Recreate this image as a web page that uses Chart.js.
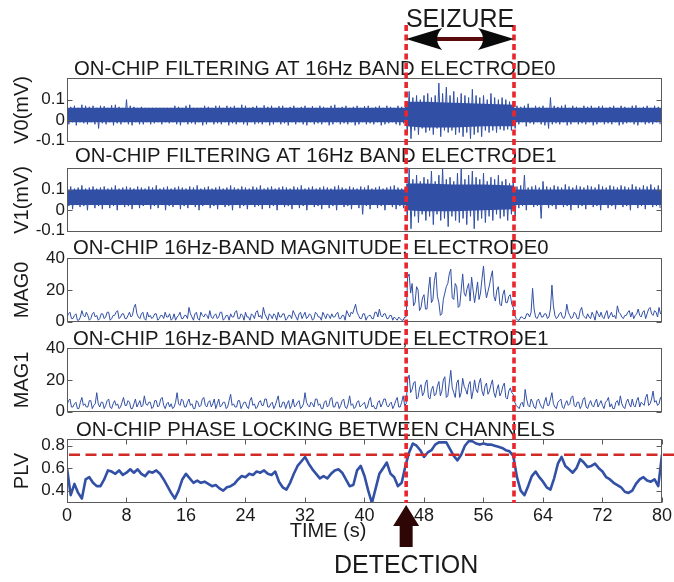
<!DOCTYPE html>
<html>
<head>
<meta charset="utf-8">
<title>On-chip seizure detection</title>
<script src="https://cdn.jsdelivr.net/npm/chart.js@4.4.1/dist/chart.umd.min.js"></script>
<style>
  html, body { margin:0; padding:0; background:#fff; }
  body { position:relative; width:674px; height:582px; overflow:hidden; }
  canvas { position:absolute; left:0; }
</style>
</head>
<body>
<script>
// ================= DATA =================
const timeRange = [0, 80];
const xTickValues = [0, 8, 16, 24, 32, 40, 48, 56, 64, 72, 80];

// Filtered signals: per 0.5 s, the upper (hi) and lower (lo) excursion in mV
const V_STEP = 0.5;
const v0Hi = [
  0.07,0.065,0.07,0.06,0.075,0.07,0.065,0.07,0.06,0.07,
  0.068,0.06,0.072,0.075,0.065,0.06,0.1,0.07,0.065,0.06,
  0.065,0.06,0.06,0.06,0.06,0.06,0.06,0.06,0.06,0.07,
  0.065,0.06,0.07,0.075,0.06,0.06,0.06,0.07,0.065,0.06,
  0.07,0.07,0.06,0.07,0.065,0.07,0.06,0.075,0.07,0.06,
  0.065,0.07,0.06,0.072,0.065,0.07,0.06,0.068,0.07,0.06,
  0.065,0.07,0.06,0.065,0.07,0.06,0.068,0.06,0.07,0.065,
  0.06,0.07,0.075,0.06,0.065,0.07,0.06,0.065,0.07,0.06,
  0.068,0.07,0.06,0.065,0.07,0.06,0.07,0.065,0.06,0.07,
  0.065,0.07,0.14,0.11,0.12,0.1,0.12,0.13,0.11,0.12,
  0.18,0.13,0.16,0.12,0.14,0.11,0.13,0.12,0.11,0.15,
  0.12,0.11,0.12,0.1,0.13,0.11,0.1,0.11,0.1,0.09,
  0.09,0.07,0.065,0.07,0.08,0.06,0.07,0.065,0.07,0.06,
  0.11,0.07,0.065,0.07,0.075,0.06,0.07,0.065,0.06,0.07,
  0.065,0.07,0.06,0.068,0.07,0.06,0.065,0.07,0.06,0.07,
  0.065,0.06,0.07,0.072,0.06,0.065,0.07,0.06,0.07,0.065
];
const v0Lo = [
  -0.02,-0.01,-0.025,-0.01,-0.015,-0.02,-0.01,-0.02,-0.04,-0.015,
  -0.02,-0.01,-0.025,-0.015,-0.02,-0.01,-0.02,-0.025,-0.01,-0.02,
  -0.02,-0.01,-0.02,-0.015,-0.01,-0.02,-0.01,-0.015,-0.01,-0.02,
  -0.025,-0.01,-0.02,-0.015,-0.02,-0.01,-0.025,-0.02,-0.01,-0.02,
  -0.015,-0.02,-0.01,-0.025,-0.015,-0.02,-0.01,-0.02,-0.025,-0.01,
  -0.02,-0.015,-0.02,-0.01,-0.025,-0.02,-0.01,-0.02,-0.015,-0.025,
  -0.01,-0.02,-0.01,-0.02,-0.025,-0.01,-0.02,-0.015,-0.02,-0.01,
  -0.025,-0.02,-0.01,-0.02,-0.015,-0.02,-0.01,-0.025,-0.02,-0.01,
  -0.02,-0.015,-0.02,-0.01,-0.025,-0.02,-0.015,-0.01,-0.02,-0.025,
  -0.015,-0.06,-0.09,-0.05,-0.07,-0.04,-0.06,-0.05,-0.07,-0.04,
  -0.08,-0.05,-0.06,-0.05,-0.07,-0.06,-0.08,-0.06,-0.09,-0.07,
  -0.06,-0.08,-0.05,-0.06,-0.05,-0.06,-0.045,-0.05,-0.045,-0.05,
  -0.04,-0.02,-0.01,-0.03,-0.015,-0.02,-0.01,-0.02,-0.025,-0.04,
  -0.02,-0.015,-0.02,-0.01,-0.025,-0.02,-0.01,-0.02,-0.015,-0.02,
  -0.01,-0.025,-0.02,-0.01,-0.02,-0.015,-0.02,-0.01,-0.025,-0.02,
  -0.015,-0.01,-0.02,-0.025,-0.01,-0.02,-0.015,-0.02,-0.01,-0.02
];
const v1Hi = [
  0.11,0.115,0.105,0.11,0.12,0.105,0.11,0.115,0.105,0.11,
  0.115,0.105,0.11,0.12,0.105,0.11,0.115,0.11,0.105,0.115,
  0.11,0.105,0.115,0.11,0.12,0.105,0.11,0.115,0.105,0.11,
  0.115,0.11,0.105,0.115,0.11,0.12,0.105,0.11,0.115,0.105,
  0.11,0.115,0.105,0.11,0.12,0.11,0.105,0.115,0.11,0.105,
  0.115,0.11,0.12,0.105,0.11,0.115,0.105,0.11,0.115,0.11,
  0.105,0.115,0.11,0.12,0.105,0.11,0.115,0.105,0.11,0.115,
  0.11,0.105,0.115,0.12,0.11,0.105,0.115,0.11,0.105,0.115,
  0.11,0.12,0.105,0.11,0.115,0.105,0.11,0.115,0.12,0.11,
  0.105,0.11,0.2,0.15,0.17,0.14,0.16,0.15,0.19,0.14,
  0.17,0.2,0.15,0.16,0.14,0.18,0.2,0.15,0.17,0.19,
  0.16,0.15,0.18,0.14,0.16,0.15,0.17,0.14,0.15,0.13,
  0.14,0.115,0.12,0.17,0.11,0.115,0.12,0.11,0.14,0.115,
  0.11,0.12,0.115,0.11,0.125,0.115,0.11,0.12,0.115,0.11,
  0.12,0.115,0.11,0.125,0.115,0.11,0.12,0.115,0.11,0.12,
  0.115,0.11,0.125,0.115,0.11,0.12,0.115,0.125,0.11,0.12
];
const v1Lo = [
  0.02,0.005,0.025,0.015,0.02,0.0,0.025,0.01,0.02,0.005,
  0.025,0.01,0.02,0.0,0.025,0.015,0.02,0.005,0.025,0.01,
  0.02,0.025,0.005,0.02,0.01,0.025,0.0,0.02,0.015,0.025,
  0.005,0.02,0.01,0.025,0.015,0.0,0.02,0.025,0.01,0.02,
  0.005,0.025,0.015,0.02,0.0,0.025,0.01,0.02,0.005,0.025,
  0.015,0.02,0.005,0.025,0.01,0.02,0.0,0.025,0.015,0.02,
  0.005,0.025,0.01,0.02,0.0,0.025,0.015,0.02,0.005,0.025,
  0.01,0.02,0.0,0.025,0.015,0.02,0.005,0.025,0.01,-0.02,
  0.02,0.005,0.025,0.01,0.02,0.0,0.025,0.015,0.005,0.02,
  0.01,-0.04,-0.09,-0.03,-0.06,-0.02,-0.05,-0.03,-0.07,-0.02,
  -0.05,-0.04,-0.08,-0.03,-0.05,-0.06,-0.04,-0.07,-0.03,-0.09,
  -0.05,-0.04,-0.06,-0.03,-0.05,-0.02,-0.04,-0.03,-0.05,-0.02,
  -0.03,0.01,0.02,0.0,0.025,0.015,0.02,-0.04,0.025,0.01,
  0.02,0.005,0.025,0.015,0.02,0.0,0.025,0.01,0.02,0.005,
  0.025,0.015,0.02,0.0,0.025,0.01,0.02,0.005,0.025,0.015,
  0.02,0.0,0.025,0.01,0.02,0.005,0.025,0.015,0.02,0.01
];
// Dense core of the filtered signals (where the trace fills solid), mV, at knot times (s)
const vCoreT   = [0, 45.6, 45.6, 48, 52, 56, 60.1, 60.1, 80];
const v0CoreHi = [0.06, 0.06, 0.09, 0.09, 0.085, 0.08, 0.075, 0.06, 0.06];
const v0CoreLo = [-0.01, -0.01, -0.03, -0.035, -0.035, -0.03, -0.03, -0.01, -0.01];
const v1CoreHi = [0.1, 0.1, 0.13, 0.13, 0.125, 0.125, 0.12, 0.1, 0.1];
const v1CoreLo = [0.025, 0.025, 0.0, -0.005, -0.005, 0.0, 0.005, 0.025, 0.025];

// 16 Hz-band magnitudes, one value every 0.2 s
const MAG_STEP = 0.2;
const mag0 = [
  3,5,6,2,2,4,5,1,1,3,7,4,3,6,4,1,2,5,6,3,
  4,1,2,5,5,2,3,6,6,1,2,4,4,6,7,2,3,5,5,2,
  2,4,6,3,4,9,11,5,3,2,5,6,2,1,6,3,4,2,3,5,
  5,1,2,4,4,2,6,3,3,5,1,2,5,1,3,4,6,2,2,4,
  4,2,9,5,3,1,5,6,2,1,6,4,3,5,4,2,7,3,2,4,
  5,2,3,6,6,1,2,4,4,1,5,3,3,6,7,2,2,5,4,1,
  6,3,3,1,5,4,2,6,7,3,4,2,9,5,3,1,5,4,2,5,
  4,1,6,3,3,5,5,1,2,4,4,2,7,5,3,1,5,6,2,4,
  6,2,3,5,4,1,2,6,5,3,3,1,6,4,2,5,4,2,5,3,
  3,5,6,2,2,4,4,1,7,5,3,6,5,8,11,6,4,2,2,5,
  5,1,3,4,4,2,2,6,6,3,8,4,3,5,5,2,2,4,4,1,
  3,2,1,3,2,1,1,3,3,28,30,18,24,10,12,22,20,7,9,15,
  17,8,8,20,28,12,14,26,31,16,12,4,5,14,18,22,24,30,33,15,
  14,24,22,9,10,20,30,18,16,21,24,13,28,20,12,18,25,14,18,27,
  35,22,15,19,23,28,32,16,13,20,22,11,10,17,20,12,12,16,17,11,
  9,4,2,1,1,3,3,2,2,5,5,3,6,21,8,3,2,4,6,3,
  3,5,5,2,3,8,23,10,4,2,3,5,6,3,2,4,11,6,4,2,
  3,6,5,2,2,7,9,4,3,2,5,3,2,6,4,1,7,5,3,6,
  3,2,5,7,2,4,6,3,4,2,10,6,5,3,2,4,4,6,7,3,
  6,2,4,5,8,4,3,6,7,2,5,8,9,5,4,7,6,3,9,5,
  6
];
const mag1 = [
  4,7,8,3,3,5,6,2,2,6,9,4,5,3,3,7,7,2,4,5,
  12,5,3,6,6,2,4,7,8,3,2,5,7,4,5,2,3,6,9,4,
  4,7,6,2,2,5,8,3,5,7,3,4,10,5,4,6,6,2,3,7,
  7,3,4,8,9,4,2,5,6,3,5,2,3,6,12,5,4,8,7,3,
  3,6,8,4,5,2,2,7,6,3,4,8,9,4,3,6,7,3,5,8,
  2,5,8,3,4,6,6,2,3,7,11,4,5,3,3,7,7,2,4,6,
  6,3,2,7,9,4,5,2,3,6,7,4,4,8,8,3,3,5,6,2,
  4,7,10,3,3,6,6,2,5,7,2,4,8,3,4,6,7,2,3,5,
  12,6,4,3,6,5,3,8,8,4,5,2,2,6,7,3,4,8,9,3,
  3,6,6,2,4,7,8,3,2,5,10,4,5,2,3,6,7,3,4,5,
  6,2,3,7,9,3,4,2,2,6,7,3,5,8,8,4,3,5,6,2,
  4,7,9,3,3,6,10,4,5,20,23,12,14,18,19,8,9,15,17,10,
  12,18,20,9,8,14,16,10,11,16,19,10,13,20,22,9,10,18,26,15,
  12,9,18,20,9,12,21,16,14,11,17,19,8,13,20,14,12,18,21,13,
  10,16,18,11,13,17,20,12,9,14,17,10,12,16,18,9,8,13,15,12,
  11,6,4,3,2,5,6,3,14,8,4,3,8,6,3,2,7,8,5,3,
  2,6,9,4,4,8,12,5,3,2,6,7,8,3,2,5,7,4,5,9,
  10,4,3,6,6,2,4,8,9,3,2,5,7,4,3,6,8,3,5,7,
  4,2,6,7,9,3,5,2,2,6,7,4,10,5,3,2,6,8,5,3,
  8,4,3,7,9,3,6,5,4,9,11,4,5,8,13,6,7,4,5,9,
  7
];

// Phase locking value, one value every 0.5 s
const PLV_STEP = 0.5;
const plv = [
  0.60,0.36,0.46,0.38,0.33,0.50,0.52,0.47,0.44,0.44,
  0.50,0.58,0.57,0.55,0.58,0.54,0.56,0.59,0.56,0.59,
  0.55,0.53,0.57,0.56,0.58,0.55,0.50,0.44,0.38,0.33,
  0.40,0.50,0.55,0.51,0.47,0.49,0.47,0.48,0.46,0.44,
  0.45,0.42,0.40,0.43,0.44,0.46,0.50,0.53,0.52,0.55,
  0.54,0.57,0.56,0.58,0.55,0.54,0.57,0.48,0.43,0.41,
  0.47,0.55,0.62,0.66,0.70,0.64,0.59,0.55,0.51,0.53,
  0.51,0.55,0.58,0.59,0.56,0.50,0.44,0.45,0.58,0.62,
  0.53,0.40,0.29,0.42,0.55,0.60,0.65,0.55,0.52,0.44,
  0.47,0.62,0.74,0.82,0.80,0.76,0.70,0.74,0.76,0.81,
  0.83,0.83,0.83,0.77,0.71,0.67,0.72,0.80,0.84,0.84,
  0.82,0.81,0.82,0.81,0.81,0.80,0.79,0.78,0.76,0.75,
  0.71,0.52,0.40,0.36,0.44,0.53,0.57,0.52,0.48,0.43,
  0.41,0.51,0.64,0.70,0.62,0.59,0.56,0.60,0.68,0.65,
  0.61,0.62,0.64,0.60,0.57,0.52,0.50,0.47,0.45,0.43,
  0.39,0.38,0.40,0.46,0.50,0.52,0.49,0.48,0.50,0.44,
  0.72
];
const plvThreshold = 0.72;

// Events (s)
const seizureStart = 45.6;
const seizureEnd = 60.1;
const detectionTime = 45.6;

// Text
const panelTitles = [
  'ON-CHIP FILTERING AT 16Hz BAND ELECTRODE0',
  'ON-CHIP FILTERING AT 16Hz BAND ELECTRODE1',
  'ON-CHIP 16Hz-BAND MAGNITUDE, ELECTRODE0',
  'ON-CHIP 16Hz-BAND MAGNITUDE, ELECTRODE1',
  'ON-CHIP PHASE LOCKING BETWEEN CHANNELS'
];
const yTitles = ['V0(mV)', 'V1(mV)', 'MAG0', 'MAG1', 'PLV'];
const xTitle = 'TIME (s)';
const seizureLabel = 'SEIZURE';
const detectionLabel = 'DETECTION';
const vTicks = [-0.1, 0, 0.1];
const magTicks = [0, 20, 40];
const plvTicks = [0.4, 0.6, 0.8];

// ================= RENDERING =================
const FONT = '"Liberation Sans", Arial, Helvetica, sans-serif';
const INK = '#1a1a1a';
const BLUE = '#3250a5';
const FRAME = '#5a5a5a';
const TITLE_SIZE = 20.3;
const BOX_H = 64, PAD_T = 30, AXIS_LEFT = 67, PAD_R = 12;

Chart.defaults.font.family = FONT;
Chart.defaults.color = INK;

function addCanvas(top, h, z) {
  const c = document.createElement('canvas');
  c.width = 674; c.height = h;
  c.style.width = '674px'; c.style.height = h + 'px';
  c.style.top = top + 'px';
  if (z) c.style.zIndex = z;
  document.body.appendChild(c);
  return c;
}
function series(values, step) { return values.map((v, i) => ({x: i * step, y: v})); }
function knots(times, values) { return values.map((v, i) => ({x: times[i], y: v})); }
function zigzag(hi, lo, step) {
  const p = [];
  hi.forEach((h, i) => { p.push({x: i * step, y: h}); p.push({x: i * step + step / 2, y: lo[i]}); });
  return p;
}
function traceDs(points, lw) {
  return { data: points, borderColor: BLUE, borderWidth: lw, pointRadius: 0, tension: 0, fill: false, borderJoinStyle: 'round' };
}
function coreDs(hi, lo) {
  return [
    { data: knots(vCoreT, hi), borderWidth: 0, borderColor: BLUE, backgroundColor: BLUE, pointRadius: 0, tension: 0, fill: '+1' },
    { data: knots(vCoreT, lo), borderWidth: 0, borderColor: BLUE, backgroundColor: BLUE, pointRadius: 0, tension: 0, fill: false }
  ];
}
const fmtV = v => (v === 0 ? '0' : v.toFixed(1));
const fmtInt = v => String(v);
const fmt1 = v => v.toFixed(1);

function framePlugin(p) {
  return {
    id: 'frame_' + p.key,
    afterDatasetsDraw(chart) {
      const {ctx, chartArea: a, scales} = chart;
      const x = scales.x, y = scales.y;
      ctx.save();
      if (p.threshold != null) {
        const ty = y.getPixelForValue(p.threshold);
        ctx.strokeStyle = '#d22a27'; ctx.lineWidth = 2.6; ctx.setLineDash([11, 5.5]);
        ctx.beginPath(); ctx.moveTo(a.left + 2, ty); ctx.lineTo(674, ty); ctx.stroke();
        ctx.setLineDash([]);
      }
      const L = Math.round(a.left) + 0.5, R = Math.round(a.right) - 0.5;
      const T = Math.round(a.top) + 0.5, B = Math.round(a.bottom) - 0.5;
      ctx.strokeStyle = FRAME; ctx.lineWidth = 1;
      ctx.strokeRect(L, T, R - L, B - T);
      ctx.beginPath();
      p.yTicks.forEach(v => {
        const yy = Math.round(y.getPixelForValue(v)) + 0.5;
        ctx.moveTo(L, yy); ctx.lineTo(L + 5, yy);
        ctx.moveTo(R, yy); ctx.lineTo(R - 5, yy);
      });
      if (p.xAxis) xTickValues.forEach(v => {
        const xx = Math.round(x.getPixelForValue(v)) + 0.5;
        ctx.moveTo(xx, T); ctx.lineTo(xx, T + 5);
        ctx.moveTo(xx, B); ctx.lineTo(xx, B - 5);
      });
      ctx.stroke();
      ctx.fillStyle = INK;
      ctx.font = TITLE_SIZE + 'px ' + FONT;
      ctx.textAlign = 'left'; ctx.textBaseline = 'alphabetic';
      ctx.fillText(p.title, p.titleX, a.top - p.titleGap);
      if (p.xAxis) {
        ctx.font = '20px ' + FONT; ctx.textAlign = 'center';
        ctx.fillText(xTitle, 328, a.bottom + 34);
      }
      ctx.restore();
    }
  };
}

function makePanel(p) {
  const padB = p.xAxis ? 30 : 12;
  const axisH = p.xAxis ? 24 : 0;
  const h = PAD_T + BOX_H + axisH + padB;
  const c = addCanvas(p.boxTop - PAD_T, h);
  return new Chart(c, {
    type: 'line',
    data: { datasets: p.datasets },
    options: {
      responsive: false, animation: false, devicePixelRatio: 1, events: [], parsing: false,
      layout: { padding: { left: 0, right: PAD_R, top: PAD_T, bottom: padB } },
      plugins: { legend: {display: false}, tooltip: {enabled: false}, filler: {propagate: false} },
      scales: {
        x: { type: 'linear', min: timeRange[0], max: timeRange[1], display: !!p.xAxis,
             afterBuildTicks: s => { s.ticks = xTickValues.map(v => ({value: v})); },
             afterFit: s => { s.height = axisH; },
             grid: {display: false, drawTicks: false}, border: {display: false},
             ticks: { padding: 2, autoSkip: false, maxRotation: 0, font: {size: 18}, color: INK, callback: fmtInt } },
        y: { type: 'linear', min: p.yMin, max: p.yMax,
             afterBuildTicks: s => { s.ticks = p.yTicks.map(v => ({value: v})); },
             afterFit: s => { s.width = AXIS_LEFT; },
             grid: {display: false, drawTicks: false}, border: {display: false},
             ticks: { padding: 2, font: {size: 17}, color: INK, callback: p.fmt },
             title: { display: true, text: p.yTitle, font: {size: 20}, color: INK, padding: {top: 10, bottom: 0} } }
      }
    },
    plugins: [framePlugin(p)]
  });
}

const panels = [
  { key: 'v0', boxTop: 78, yMin: -0.105, yMax: 0.205, yTicks: vTicks, fmt: fmtV, yTitle: yTitles[0],
    title: panelTitles[0], titleX: 74, titleGap: 3,
    datasets: [traceDs(zigzag(v0Hi, v0Lo, V_STEP), 1)].concat(coreDs(v0CoreHi, v0CoreLo)) },
  { key: 'v1', boxTop: 168, yMin: -0.105, yMax: 0.205, yTicks: vTicks, fmt: fmtV, yTitle: yTitles[1],
    title: panelTitles[1], titleX: 75, titleGap: 6,
    datasets: [traceDs(zigzag(v1Hi, v1Lo, V_STEP), 1)].concat(coreDs(v1CoreHi, v1CoreLo)) },
  { key: 'm0', boxTop: 258, yMin: 0, yMax: 40, yTicks: magTicks, fmt: fmtInt, yTitle: yTitles[2],
    title: panelTitles[2], titleX: 73, titleGap: 4, datasets: [traceDs(series(mag0, MAG_STEP), 1)] },
  { key: 'm1', boxTop: 348, yMin: 0, yMax: 40, yTicks: magTicks, fmt: fmtInt, yTitle: yTitles[3],
    title: panelTitles[3], titleX: 73, titleGap: 3, datasets: [traceDs(series(mag1, MAG_STEP), 1)] },
  { key: 'plv', boxTop: 439, yMin: 0.29, yMax: 0.86, yTicks: plvTicks, fmt: fmt1, yTitle: yTitles[4],
    title: panelTitles[4], titleX: 76, titleGap: 3, datasets: [traceDs(series(plv, PLV_STEP), 2.6)],
    threshold: plvThreshold, xAxis: true }
];
panels.forEach(makePanel);

// ---------- overlay: seizure markers, arrows, labels ----------
const ovTop = 25, ovBottom = 503;
const annotPlugin = {
  id: 'annot',
  afterDraw(chart) {
    const {ctx, scales: {x}} = chart;
    const x1 = x.getPixelForValue(seizureStart), x2 = x.getPixelForValue(seizureEnd);
    const xd = x.getPixelForValue(detectionTime);
    ctx.save();
    ctx.fillStyle = INK; ctx.font = '25px ' + FONT; ctx.textAlign = 'center'; ctx.textBaseline = 'alphabetic';
    ctx.fillText(seizureLabel, (x1 + x2) / 2, 27);
    const ay = 39, Lh = 36, Hh = 11;
    ctx.fillStyle = '#5a0c0c';
    ctx.fillRect(x1 + 20, ay - 2, (x2 - x1) - 40, 4);
    ctx.fillStyle = '#0a0a0a';
    ctx.beginPath();
    ctx.moveTo(x1, ay); ctx.lineTo(x1 + Lh, ay - Hh); ctx.quadraticCurveTo(x1 + Lh * 0.72, ay, x1 + Lh, ay + Hh); ctx.closePath();
    ctx.moveTo(x2, ay); ctx.lineTo(x2 - Lh, ay - Hh); ctx.quadraticCurveTo(x2 - Lh * 0.72, ay, x2 - Lh, ay + Hh); ctx.closePath();
    ctx.fill();
    ctx.fillStyle = '#2e0606';
    ctx.beginPath();
    ctx.moveTo(xd, 505);
    ctx.lineTo(xd + 13, 526); ctx.lineTo(xd + 6.5, 526); ctx.lineTo(xd + 6.5, 547);
    ctx.lineTo(xd - 6.5, 547); ctx.lineTo(xd - 6.5, 526); ctx.lineTo(xd - 13, 526);
    ctx.closePath(); ctx.fill();
    ctx.fillStyle = INK; ctx.font = '25px ' + FONT;
    ctx.fillText(detectionLabel, xd, 573);
    ctx.restore();
  }
};
const markerStyle = { borderColor: '#e8262d', borderWidth: 3.6, borderDash: [6, 3.5], pointRadius: 0, clip: false, fill: false };
new Chart(addCanvas(0, 582, 10), {
  type: 'line',
  data: { datasets: [
    Object.assign({ data: [{x: seizureStart, y: 1}, {x: seizureStart, y: 0}] }, markerStyle),
    Object.assign({ data: [{x: seizureEnd, y: 1}, {x: seizureEnd, y: 0}] }, markerStyle)
  ] },
  options: {
    responsive: false, animation: false, devicePixelRatio: 1, events: [], parsing: false,
    layout: { padding: { left: AXIS_LEFT, right: PAD_R, top: ovTop, bottom: 582 - ovBottom } },
    plugins: { legend: {display: false}, tooltip: {enabled: false} },
    scales: {
      x: { type: 'linear', min: timeRange[0], max: timeRange[1], display: false },
      y: { type: 'linear', min: 0, max: 1, display: false }
    }
  },
  plugins: [annotPlugin]
});
</script>
</body>
</html>
